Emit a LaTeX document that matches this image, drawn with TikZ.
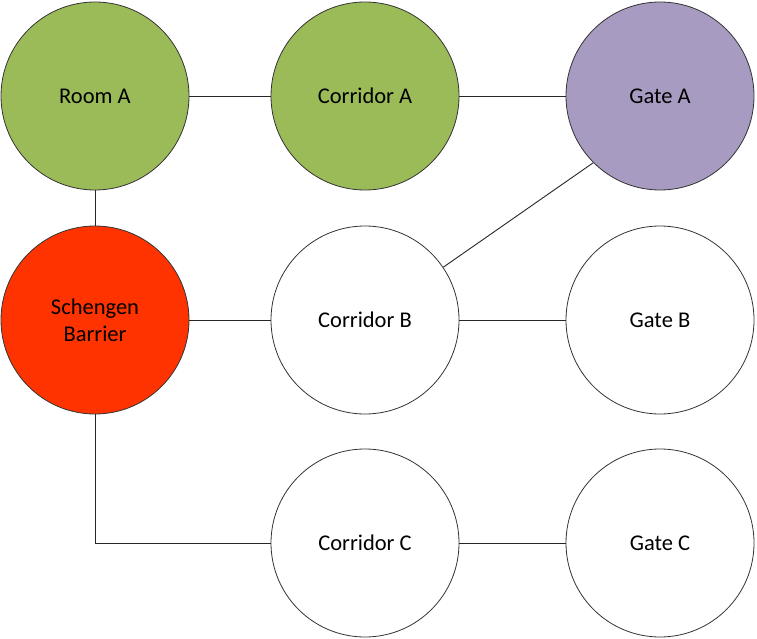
\documentclass[tikz,border=0pt]{standalone}
\usepackage{fontspec}
\setmainfont{Carlito}
\definecolor{cgreen}{HTML}{9BBB59}
\definecolor{cpurple}{HTML}{A89BC2}
\definecolor{cred}{HTML}{FF3300}
\begin{document}
\begin{tikzpicture}[x=1pt,y=-1pt,
  place/.style={circle,draw=black!80,line width=0.8pt,minimum size=188pt,inner sep=0pt,align=center,
    font=\fontsize{22.5}{27}\selectfont},
  link/.style={draw=black!85,line width=0.9pt}]
\useasboundingbox (0,0) rectangle (757,639);
\node[place,fill=cgreen] (roomA) at (95,96) {Room A};
\node[place,fill=cgreen] (corA) at (365,96) {Corridor A};
\node[place,fill=cpurple] (gateA) at (660,96) {Gate A};
\node[place,fill=cred] (schengen) at (95,320) {Schengen\\Barrier};
\node[place] (corB) at (365,320) {Corridor B};
\node[place] (gateB) at (660,320) {Gate B};
\node[place] (corC) at (365,543) {Corridor C};
\node[place] (gateC) at (660,543) {Gate C};
\coordinate (elbow) at (95,543);
\draw[link] (roomA) -- (corA);
\draw[link] (corA) -- (gateA);
\draw[link] (roomA) -- (schengen);
\draw[link] (schengen) -- (corB);
\draw[link] (corB) -- (gateB);
\draw[link] (corB.34) -- (gateA.225);
\draw[link] (schengen.south) -- (elbow) -- (corC.west);
\draw[link] (corC) -- (gateC);
\end{tikzpicture}
\end{document}
